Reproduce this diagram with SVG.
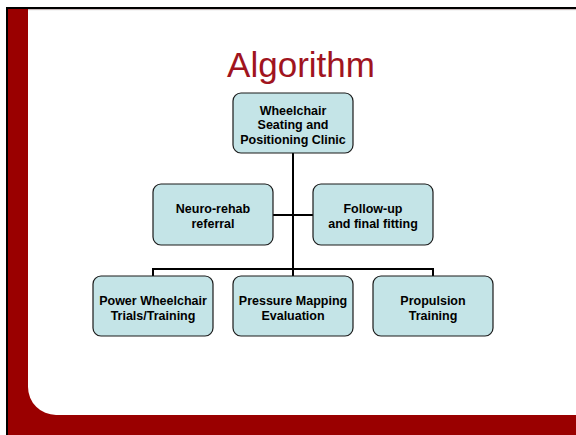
<svg xmlns="http://www.w3.org/2000/svg" width="576" height="435" viewBox="0 0 576 435">
<style>
.box{fill:#C4E4E7;stroke:#1a1a1a;stroke-width:1.2}
.t{font-family:"Liberation Sans",Arial,sans-serif;font-weight:bold;font-size:12.5px;fill:#000;text-anchor:middle}
.c{stroke:#000;stroke-width:2;fill:none}
</style>
<rect x="0" y="0" width="576" height="435" fill="#fff"/>
<rect x="6" y="7" width="570" height="428" fill="#9A0000"/>
<path d="M28 9.5 H576 V415 H56 A28 28 0 0 1 28 387 Z" fill="#fff"/>
<rect x="6" y="7" width="570" height="2" fill="#000"/>
<rect x="6" y="7" width="2" height="428" fill="#000"/>
<line x1="28" y1="9.7" x2="576" y2="9.7" stroke="#c8c8c8" stroke-width="1"/>
<text x="301" y="77" font-family="Liberation Sans,Arial,sans-serif" font-size="35" fill="#A0141E" text-anchor="middle">Algorithm</text>
<g id="connectors">
<path class="c" d="M293 153 V277"/>
<path class="c" d="M273 215 H313"/>
<path class="c" d="M153 277 V269 H433 V277"/>
</g>
<g id="n1"><rect class="box" x="233" y="93" width="120" height="60" rx="8"/>
<text class="t" x="293" y="114.5">Wheelchair</text><text class="t" x="293" y="129">Seating and</text><text class="t" x="293" y="143.5">Positioning Clinic</text></g>
<g id="n2"><rect class="box" x="153" y="184" width="120" height="61" rx="8"/>
<text class="t" x="213" y="212.5">Neuro-rehab</text><text class="t" x="213" y="227.5">referral</text></g>
<g id="n3"><rect class="box" x="313" y="184" width="120" height="61" rx="8"/>
<text class="t" x="373" y="212.5">Follow-up</text><text class="t" x="373" y="227.5">and final fitting</text></g>
<g id="n4"><rect class="box" x="93" y="276" width="120" height="60" rx="8"/>
<text class="t" x="153" y="304.5">Power Wheelchair</text><text class="t" x="153" y="319.5">Trials/Training</text></g>
<g id="n5"><rect class="box" x="233" y="276" width="120" height="60" rx="8"/>
<text class="t" x="293" y="304.5">Pressure Mapping</text><text class="t" x="293" y="319.5">Evaluation</text></g>
<g id="n6"><rect class="box" x="373" y="276" width="120" height="60" rx="8"/>
<text class="t" x="433" y="304.5">Propulsion</text><text class="t" x="433" y="319.5">Training</text></g>
</svg>
